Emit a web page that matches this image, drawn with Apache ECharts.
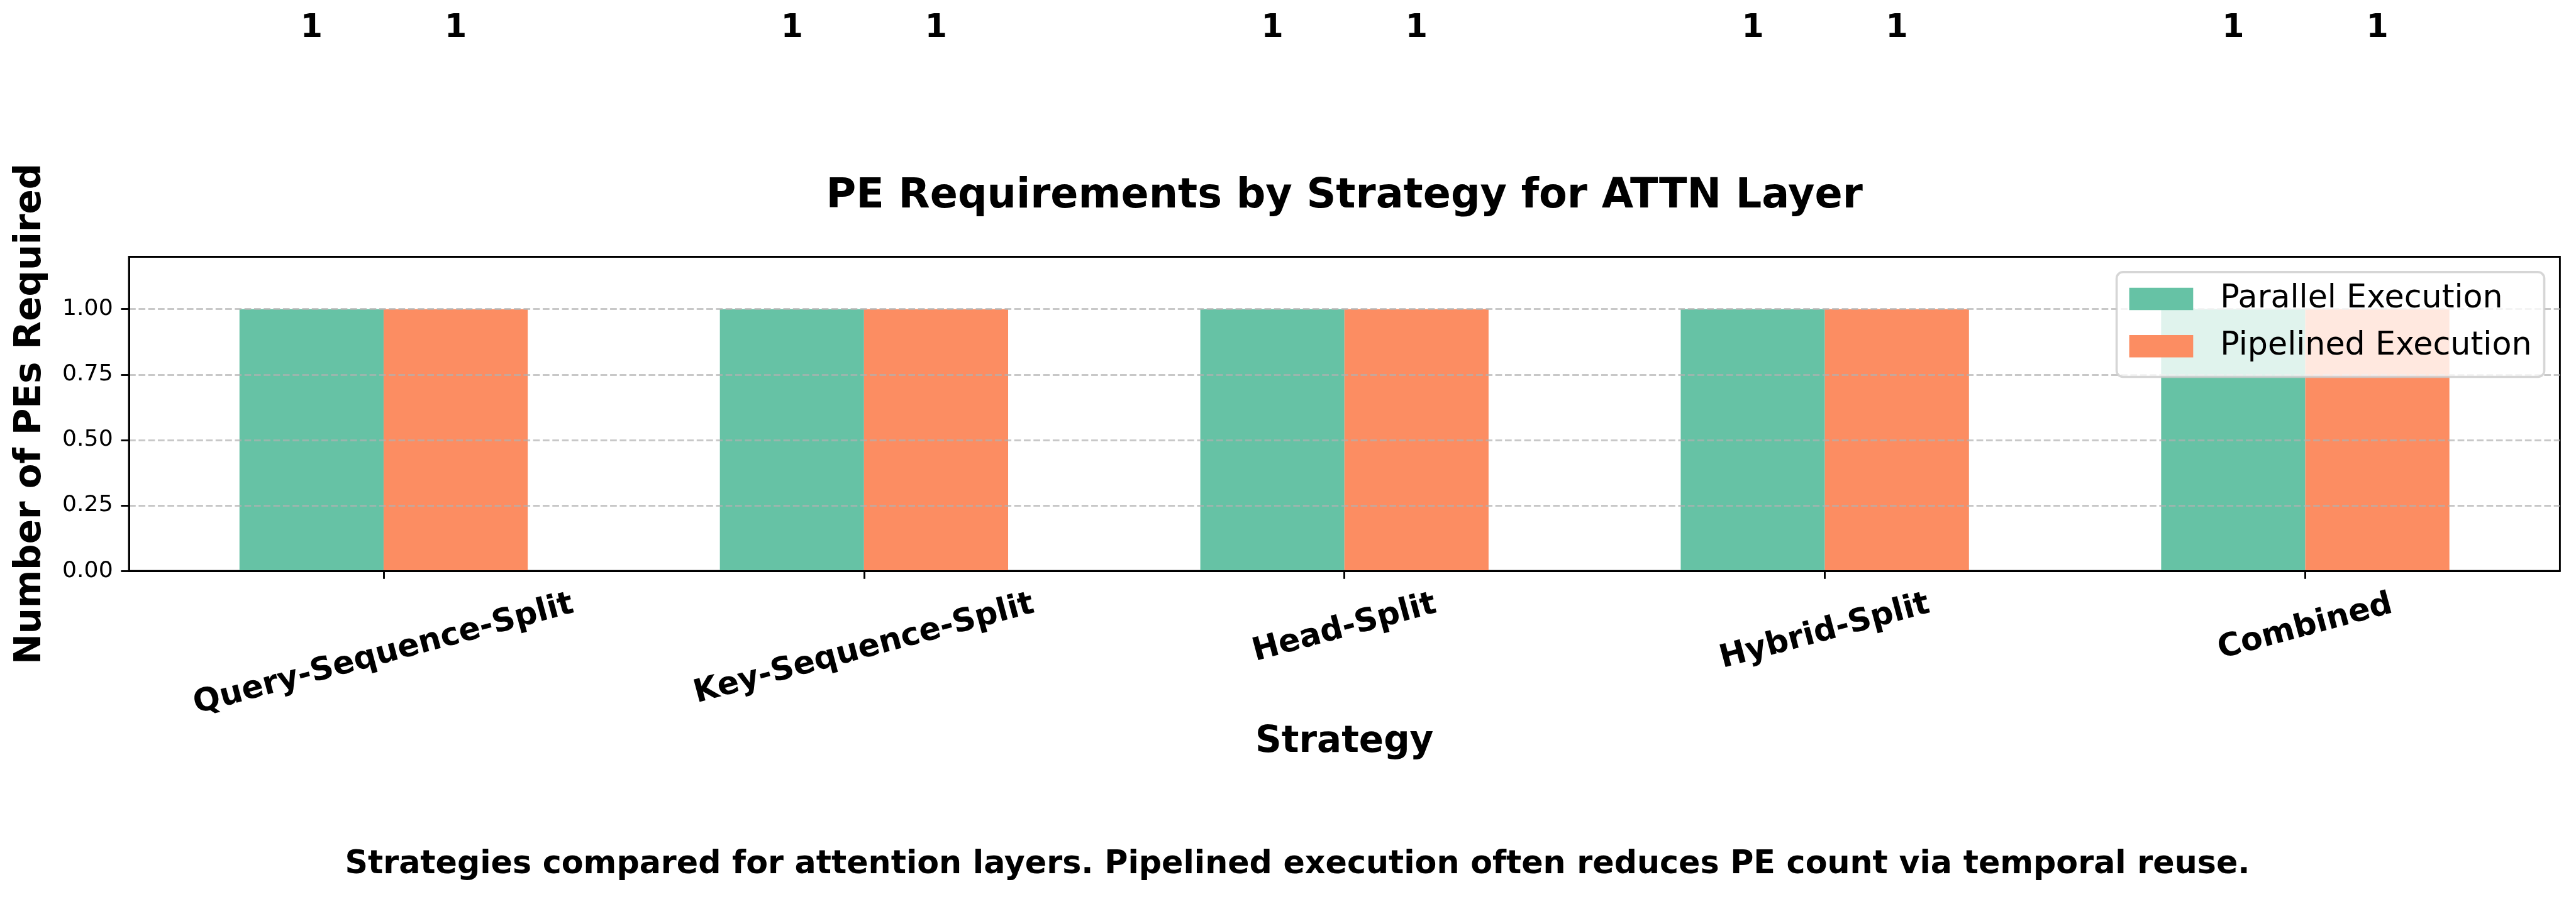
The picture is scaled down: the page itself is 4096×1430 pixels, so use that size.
<!DOCTYPE html>
<html><head><meta charset="utf-8">
<script src="https://cdn.jsdelivr.net/npm/echarts@6/dist/echarts.min.js"></script>
<style>html,body{margin:0;padding:0;background:#fff}#c{width:4096px;height:1430px}</style>
</head><body><div id="c"></div>
<script>
// ---- data ----
const categories = ['Query-Sequence-Split', 'Key-Sequence-Split', 'Head-Split', 'Hybrid-Split', 'Combined'];
const parallelPEs = [1, 1, 1, 1, 1];
const pipelinedPEs = [1, 1, 1, 1, 1];
const seriesNames = ['Parallel Execution', 'Pipelined Execution'];
const yTicks = [0, 0.25, 0.5, 0.75, 1.0];
const titleText = 'PE Requirements by Strategy for ATTN Layer';
const xTitle = 'Strategy';
const yTitle = 'Number of PEs Required';
const captionText = 'Strategies compared for attention layers. Pipelined execution often reduces PE count via temporal reuse.';

// ---- layout / style ----
const S = 0.869;
const FONT = 'DejaVu Sans';
const fs10 = 41.67 * S, fs14 = 58.33 * S, fs16 = 66.67 * S, fs18 = 75 * S;
const plotL = 236 * S, plotR = 4684 * S, plotT = 470 * S, plotB = 1045 * S;
const lw = 3.33 * S;
const tickLen = 14.6 * S;
const ang = 15 * Math.PI / 180;

// per-label padding so rotated labels hang below the axis like matplotlib (ha=center)
const ctx = document.createElement('canvas').getContext('2d');
ctx.font = 'bold ' + fs14 + 'px "' + FONT + '"';
const rich = {};
categories.forEach((c, i) => {
  const w = ctx.measureText(c).width;
  const P = w * Math.sin(ang) * Math.cos(ang);
  const R = P * Math.tan(ang);
  rich['l' + i] = { fontFamily: FONT, fontWeight: 'bold', fontSize: fs14, color: '#000', padding: [P, R, 0, 0] };
});
const catIdx = categories.map((_, i) => i);

const chart = echarts.init(document.getElementById('c'), null, { renderer: 'canvas' });
chart.setOption({
  animation: false,
  backgroundColor: '#fff',
  grid: {
    left: plotL, top: plotT, width: plotR - plotL, height: plotB - plotT,
    show: true, borderColor: '#000', borderWidth: lw, backgroundColor: 'transparent',
    containLabel: false, outerBoundsMode: 'none'
  },
  legend: {
    data: seriesNames, orient: 'vertical', left: 3365.6, top: 432.8,
    itemWidth: 101.7, itemHeight: 35.6, itemGap: 24.3, icon: 'rect',
    padding: [17.2, 20, 23.2, 20],
    backgroundColor: 'rgba(255,255,255,0.8)', borderColor: 'rgba(204,204,204,0.8)',
    borderWidth: 3.6, borderRadius: 10,
    textStyle: { fontFamily: FONT, fontSize: fs14, color: '#000', padding: [0, 0, 0, 38] }
  },
  xAxis: {
    type: 'value', min: -0.53, max: 4.53, z: 3,
    name: xTitle, nameLocation: 'middle', nameGap: 244,
    nameTextStyle: { fontFamily: FONT, fontWeight: 'bold', fontSize: fs16, color: '#000' },
    axisLine: { show: true, onZero: false, lineStyle: { color: '#000', width: lw } },
    axisTick: { show: true, inside: false, length: tickLen, customValues: catIdx, lineStyle: { color: '#000', width: lw } },
    axisLabel: {
      show: true, customValues: catIdx, rotate: 15, align: 'center', verticalAlign: 'middle', margin: 52.7,
      formatter: v => { const i = Math.round(v); return '{l' + i + '|' + categories[i] + '}'; },
      rich: rich
    },
    splitLine: { show: false }
  },
  yAxis: {
    type: 'value', min: 0, max: 1.2, interval: 0.25, z: 3,
    name: yTitle, nameLocation: 'middle', nameGap: 127.4, nameRotate: 90,
    nameTextStyle: { fontFamily: FONT, fontWeight: 'bold', fontSize: fs16, color: '#000' },
    axisLine: { show: true, onZero: false, lineStyle: { color: '#000', width: lw } },
    axisTick: { show: true, inside: false, length: tickLen, customValues: yTicks, lineStyle: { color: '#000', width: lw } },
    axisLabel: {
      show: true, customValues: yTicks, margin: 25.4,
      fontFamily: FONT, fontSize: fs10, color: '#000',
      formatter: v => v.toFixed(2)
    },
    splitLine: {
      show: true, showMinLine: false,
      lineStyle: { color: 'rgba(176,176,176,0.7)', width: lw, type: [10.7, 4.6] }
    }
  },
  series: [
    {
      name: seriesNames[0], type: 'bar', barWidth: '30%', barGap: '0%',
      data: parallelPEs.map((v, i) => [i, v]),
      itemStyle: { color: '#66c2a5' },
      label: {
        show: true, position: 'top', distance: 0, offset: [0, -420],
        fontFamily: FONT, fontWeight: 'bold', fontSize: fs14, color: '#000',
        formatter: p => String(p.value[1])
      }
    },
    {
      name: seriesNames[1], type: 'bar', barWidth: '30%', barGap: '0%',
      data: pipelinedPEs.map((v, i) => [i, v]),
      itemStyle: { color: '#fc8d62' },
      label: {
        show: true, position: 'top', distance: 0, offset: [0, -420],
        fontFamily: FONT, fontWeight: 'bold', fontSize: fs14, color: '#000',
        formatter: p => String(p.value[1])
      }
    }
  ],
  graphic: [
    { type: 'text', x: (plotL + plotR) / 2, y: 313.3, z: 10,
      style: { text: titleText, align: 'center', verticalAlign: 'middle', fontFamily: FONT, fontWeight: 'bold', fontSize: fs18, fill: '#000' } },
    { type: 'text', x: 2063, y: 1375.6, z: 10,
      style: { text: captionText, align: 'center', verticalAlign: 'middle', fontFamily: FONT, fontWeight: 'bold', fontSize: fs14, fill: '#000' } }
  ]
});
</script>
</body></html>
